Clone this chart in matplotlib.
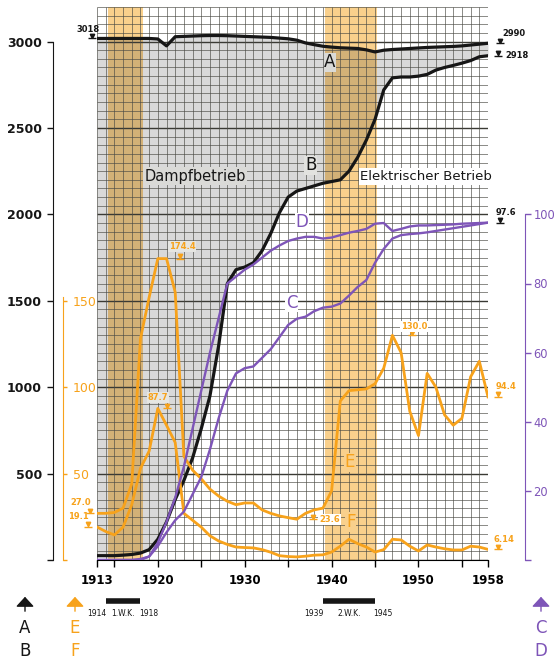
import numpy as np
import matplotlib
matplotlib.use('Agg')
import matplotlib.pyplot as plt
from matplotlib.transforms import blended_transform_factory, offset_copy

years = np.arange(1913, 1959)

# A / B : left black scale
A = [3018, 3018, 3018, 3018, 3018, 3018, 3018, 3015, 2975, 3028,
     3030, 3032, 3034, 3035, 3035, 3034, 3032, 3030, 3028, 3026,
     3024, 3020, 3016, 3008, 2992, 2982, 2973, 2968, 2964, 2962,
     2960, 2952, 2940, 2950, 2954, 2957, 2960, 2963, 2966, 2968,
     2970, 2972, 2975, 2980, 2985, 2990]
B = [25, 25, 25, 28, 32, 40, 60, 120, 220, 350,
     460, 590, 760, 950, 1240, 1600, 1680, 1695, 1720, 1790,
     1890, 2010, 2100, 2135, 2150, 2165, 2180, 2190, 2200, 2250,
     2330, 2430, 2550, 2720, 2790, 2795, 2795, 2800, 2810, 2835,
     2850, 2862, 2875, 2890, 2912, 2918]

# C / D : right purple scale
C = [0, 0, 0, 0, 0, 0, 1, 4, 8, 11.5,
     14, 19, 24, 32, 41, 49, 54, 55.5, 56, 58.5,
     61, 64.5, 68, 69.8, 70.4, 72, 73, 73.3, 74.2, 76.5,
     79, 81, 86, 90, 93, 94, 94.3, 94.5, 94.8, 95.2,
     95.6, 96, 96.4, 96.8, 97.2, 97.6]
D = [0, 0, 0, 0, 0, 0.3, 1, 5, 11, 18,
     27, 38, 49, 60, 70, 80, 82, 84, 85.5, 87.5,
     89.5, 91, 92.3, 93, 93.5, 93.5, 93, 93.3, 94, 94.7,
     95.2, 95.8, 97.3, 97.5, 95.2, 95.8, 96.5, 96.8, 96.8, 96.9,
     97, 97.1, 97.3, 97.4, 97.5, 97.6]

# E / F : inner orange scale
E = [27.0, 27.0, 27.5, 30, 44, 128, 152, 174.4, 174.4, 155,
     60, 52, 47, 41, 37, 34, 32, 33, 33, 29,
     27, 25.5, 24.5, 23.6, 27, 29, 30, 40, 92, 98,
     98.5, 99, 102, 111, 130, 120, 86, 72, 108, 100,
     84, 78, 82, 106, 115, 94.4]
F = [19.1, 16.5, 14.5, 19, 32, 53, 63, 87.7, 78, 68,
     27, 23, 19, 14, 11, 9, 7.5, 7.2, 7, 6,
     4.5, 2.5, 2, 1.8, 2.2, 2.8, 3, 4.6, 8, 12,
     9.5, 7.5, 4.6, 6, 12, 11.6, 8, 5.2, 8.7, 7.5,
     6.5, 5.8, 5.8, 8, 7.5, 6.14]

wars = [(1914, 1918, '1.W.K.'), (1939, 1945, '2.W.K.')]

BLACK = '#161616'
ORANGE = '#f7a21b'
PURPLE = '#7e55b8'
BAND = '#f9d08c'

fig = plt.figure(figsize=(5.57, 6.63), dpi=100)
W, H = 557.0, 663.0
ax = fig.add_axes([97 / W, 103 / H, 391 / W, 553 / H])
ax.set_xlim(1913, 1958)
ax.set_ylim(0, 3200)

# grid paper
hl = np.arange(0, 3201, 50)
ax.hlines(hl[hl % 500 != 0], 1913, 1958, color='#4a4a44', lw=0.45, zorder=1.5)
ax.hlines(hl[hl % 500 == 0], 1913, 1958, color='#3a3a34', lw=1.0, zorder=1.5)
ax.vlines(years, 0, 3200, color='#4a4a44', lw=0.45, zorder=1.5)

for a, b, name in wars:
    ax.axvspan(a + 0.25, b + 0.25, color=BAND, lw=0, zorder=0.5)

ax.fill_between(years, B, A, color='black', alpha=0.15, lw=0, zorder=1)
ax.plot(years, A, color=BLACK, lw=2.3, zorder=4, solid_joinstyle='round')
ax.plot(years, B, color=BLACK, lw=2.3, zorder=4, solid_joinstyle='round')

ax_o = ax.twinx()
ax_o.set_ylim(0, 320)
ax_o.plot(years, E, color=ORANGE, lw=2.0, solid_joinstyle='round')
ax_o.plot(years, F, color=ORANGE, lw=2.0, solid_joinstyle='round')

ax_p = ax.twinx()
ax_p.set_ylim(0, 160)
ax_p.plot(years, C, color=PURPLE, lw=1.7, solid_joinstyle='round')
ax_p.plot(years, D, color=PURPLE, lw=1.7, solid_joinstyle='round')

# axes / spines
ax.spines['top'].set_visible(False)
ax.spines['right'].set_visible(False)
ax.spines['left'].set_position(('axes', -44 / 391))
ax.spines['left'].set_bounds(0, 3000)
ax.spines['left'].set_color(BLACK)
ax.set_yticks(np.arange(0, 3001, 500))
ax.set_yticklabels([''] + [str(v) for v in range(500, 3001, 500)], fontweight='bold')
ax.tick_params(axis='y', direction='out', length=4, width=1, pad=4, labelsize=9, colors=BLACK)
xt = [1913, 1915, 1920, 1925, 1930, 1935, 1940, 1945, 1950, 1955, 1958]
ax.set_xticks(xt)
ax.set_xticklabels([str(t) if t in (1913, 1920, 1930, 1940, 1950, 1958) else '' for t in xt],
                   fontweight='bold')
ax.tick_params(axis='x', direction='out', length=5, width=1, pad=5, labelsize=8.5)

for axis in (ax_o, ax_p):
    for s in ('top', 'bottom', 'left'):
        axis.spines[s].set_visible(False)
    axis.tick_params(axis='x', bottom=False, labelbottom=False)

ax_o.spines['right'].set_position(('axes', -34 / 391))
ax_o.spines['right'].set_bounds(0, 152)
ax_o.spines['right'].set_color(ORANGE)
ax_o.set_yticks([0, 50, 100, 150])
ax_o.set_yticklabels(['', '50', '100', '150'])
ax_o.tick_params(axis='y', direction='out', length=3, width=1, pad=4, labelsize=9,
                 colors=ORANGE)

ax_p.spines['right'].set_position(('axes', 1 + 37 / 391))
ax_p.spines['right'].set_bounds(0, 100)
ax_p.spines['right'].set_color(PURPLE)
ax_p.set_yticks(np.arange(0, 101, 20))
ax_p.set_yticklabels([''] + [str(v) for v in range(20, 101, 20)])
ax_p.tick_params(axis='y', direction='out', length=4, width=1, pad=2, labelsize=8.3,
                 colors=PURPLE)


def tag(axis, x, y, txt, color, dx, dy, ha='center', bg=None):
    up = offset_copy(axis.transData, fig=fig, x=0, y=2.5, units='dots')
    axis.plot([x], [y], marker='v', ms=3.2, color=color, transform=up,
              clip_on=False, zorder=6)
    axis.plot([x], [y], marker='_', ms=5.5, mew=1, color=color,
              clip_on=False, zorder=6)
    box = dict(fc=bg, ec='none', pad=0.8) if bg else None
    axis.annotate(txt, (x, y), xytext=(dx, dy), textcoords='offset pixels',
                  ha=ha, va='center', fontsize=6, color=color,
                  fontweight='bold', bbox=box, zorder=7, annotation_clip=False)


tag(ax, 1912.45, A[0], '3018', BLACK, -4, 9)
tag(ax, 1959.4, A[-1], '2990', BLACK, 14, 10)
tag(ax, 1959.15, B[-1], '2918', BLACK, 7, 0, ha='left')
tag(ax_p, 1959.4, D[-1], '97.6', BLACK, 6, 10)
tag(ax_o, 1922.55, max(E), '174.4', ORANGE, 2, 12, bg='#e6e6e2')
tag(ax_o, 1921.05, max(F), '87.7', ORANGE, -9, 11, bg='#e6e6e2')
tag(ax_o, 1912.2, E[0], '27.0', ORANGE, -9, 11)
tag(ax_o, 1912.0, F[0], '19.1', ORANGE, -10, 10)
tag(ax_o, 1949.25, max(E[30:]), '130.0', ORANGE, 2, 9, bg='white')
tag(ax_o, 1959.15, E[-1], '94.4', ORANGE, 8, 10)
tag(ax_o, 1937.85, min(E[20:]), '23.6', ORANGE, 6, 0, ha='left', bg='white')
tag(ax_o, 1959.15, F[-1], '6.14', ORANGE, 6, 10)

# labels inside the chart
ax.text(1924.3, 2220, 'Dampfbetrieb', fontsize=10.5, ha='center', va='center',
        color=BLACK, zorder=5, bbox=dict(fc='#dadad7', ec='none', pad=1.2))
ax.text(1950.9, 2220, 'Elektrischer Betrieb', fontsize=9.5, ha='center', va='center',
        color=BLACK, zorder=5, bbox=dict(fc='white', ec='none', pad=1.2))
ax.text(1939.8, 2880, 'A', fontsize=12, ha='center', va='center', color=BLACK,
        zorder=5, bbox=dict(fc='#dadad7', ec='none', pad=0.5))
ax.text(1937.6, 2283, 'B', fontsize=12, ha='center', va='center', color=BLACK,
        zorder=5, bbox=dict(fc='#e2e2df', ec='none', pad=0.5))
ax_p.text(1935.4, 74.5, 'C', fontsize=12, ha='center', va='center', color=PURPLE,
          zorder=5, bbox=dict(fc='white', ec='none', pad=0.5))
ax_p.text(1936.6, 97.7, 'D', fontsize=12, ha='center', va='center', color=PURPLE,
          zorder=5, bbox=dict(fc='white', ec='none', pad=0.5))
ax_o.text(1942.1, 56.6, 'E', fontsize=12, ha='center', va='center', color=ORANGE,
          zorder=5, bbox=dict(fc=BAND, ec='none', pad=0.5))
ax_o.text(1942.2, 22, 'F', fontsize=12, ha='center', va='center', color=ORANGE,
          zorder=5, bbox=dict(fc=BAND, ec='none', pad=0.5))

# war bars under the axis
bt = blended_transform_factory(ax.transData, fig.transFigure)
for a, b, name in wars:
    ax.plot([a, b], [1 - 601 / H] * 2, transform=bt, color=BLACK, lw=4,
            solid_capstyle='butt', clip_on=False)
    ax.text(a + 0.1, 1 - 614 / H, str(a), transform=bt, ha='right', va='center',
            fontsize=5.5, color=BLACK)
    ax.text(b - 0.2, 1 - 614 / H, str(b), transform=bt, ha='left', va='center',
            fontsize=5.5, color=BLACK)
    ax.text((a + b) / 2, 1 - 614 / H, name, transform=bt, ha='center', va='center',
            fontsize=5.5, color=BLACK)

# scale keys
for x, color, l1, l2 in [(25, BLACK, 'A', 'B'), (75, ORANGE, 'E', 'F'),
                         (541, PURPLE, 'C', 'D')]:
    fig.add_artist(matplotlib.patches.FancyArrowPatch(
        (x / W, 1 - 614 / H), (x / W, 1 - 594 / H), transform=fig.transFigure,
        arrowstyle='-|>,head_width=0.55,head_length=0.6', mutation_scale=10,
        color=color, lw=1))
    fig.text(x / W, 1 - 628 / H, l1, ha='center', va='center', fontsize=12, color=color)
    fig.text(x / W, 1 - 651 / H, l2, ha='center', va='center', fontsize=12, color=color)

fig.savefig('out.png', dpi=100)
